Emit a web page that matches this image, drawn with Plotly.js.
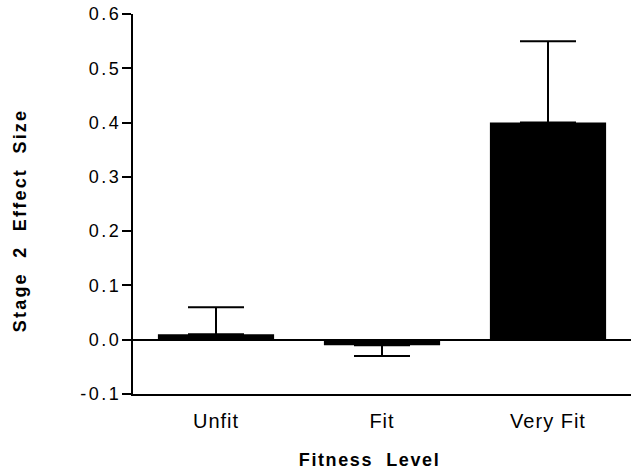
<!DOCTYPE html>
<html>
<head>
<meta charset="utf-8">
<script src="https://cdn.plot.ly/plotly-3.0.1.min.js"></script>
<style>
  html, body { margin: 0; padding: 0; background: #fff; }
  #chart { width: 631px; height: 474px; }
  .annotation[data-index="0"] .annotation-text { letter-spacing: 2.2px; }
  .annotation[data-index="1"] .annotation-text { letter-spacing: 1.6px; }
  .xtick text { letter-spacing: 1px; }
  .ytick text { letter-spacing: 2.5px; }
</style>
</head>
<body>
<div id="chart"></div>
<script>
const categories = ["Unfit", "Fit", "Very Fit"];
const effectSize = [0.01, -0.01, 0.40];
const errorPlus = [0.05, 0, 0.15];
const errorMinus = [0, 0.02, 0];
const yTickValues = [-0.1, 0, 0.1, 0.2, 0.3, 0.4, 0.5, 0.6];
const yTickLabels = ["-0.1", "0.0", "0.1", "0.2", "0.3", "0.4", "0.5", "0.6"];
const xTitle = "Fitness  Level";
const yTitle = "Stage  2  Effect  Size";

const trace = {
  type: "bar",
  x: categories,
  y: effectSize,
  marker: { color: "#000", line: { width: 0 } },
  error_y: {
    type: "data",
    symmetric: false,
    array: errorPlus,
    arrayminus: errorMinus,
    color: "#000",
    thickness: 2,
    width: 28
  },
  hoverinfo: "none"
};

const font = "Liberation Sans, Arial, Helvetica, sans-serif";

const layout = {
  width: 631,
  height: 474,
  margin: { l: 133, r: 0, t: 14, b: 80 },
  paper_bgcolor: "#fff",
  plot_bgcolor: "#fff",
  showlegend: false,
  bargap: 0.3,
  font: { family: font, color: "#000", size: 19 },
  xaxis: {
    type: "category",
    range: [-0.5, 2.5],
    showline: true,
    linecolor: "#000",
    linewidth: 2,
    ticks: "",
    showgrid: false,
    zeroline: false,
    tickfont: { family: font, size: 20, color: "#000" },
    ticklabelstandoff: 8
  },
  yaxis: {
    range: [-0.1, 0.6],
    tickvals: yTickValues,
    ticktext: yTickLabels,
    showline: true,
    linecolor: "#000",
    linewidth: 2,
    ticks: "outside",
    ticklen: 9,
    tickwidth: 2,
    tickcolor: "#000",
    showgrid: false,
    zeroline: true,
    zerolinecolor: "#000",
    zerolinewidth: 2,
    tickfont: { family: font, size: 18, color: "#000" },
    ticklabelstandoff: -3
  },
  annotations: [
    {
      text: yTitle,
      xref: "paper", yref: "paper",
      x: (20 - 133) / 498, y: (394 - 221) / 380,
      xanchor: "center", yanchor: "middle",
      textangle: -90,
      showarrow: false,
      font: { family: font, size: 18, color: "#000", weight: "bold" }
    },
    {
      text: xTitle,
      xref: "paper", yref: "paper",
      x: (369 - 133) / 498, y: (394 - 460) / 380,
      xanchor: "center", yanchor: "middle",
      showarrow: false,
      font: { family: font, size: 18, color: "#000", weight: "bold" }
    }
  ]
};

Plotly.newPlot("chart", [trace], layout, { displayModeBar: false, staticPlot: true });
</script>
</body>
</html>
